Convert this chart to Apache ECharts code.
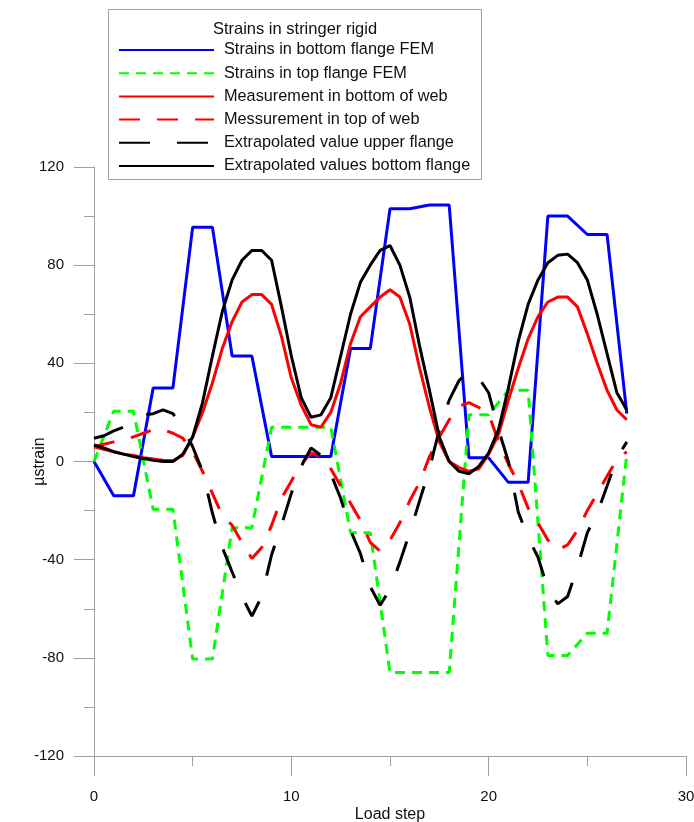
<!DOCTYPE html>
<html>
<head>
    <meta charset="utf-8">
    <script src="https://cdn.jsdelivr.net/npm/echarts@6/dist/echarts.min.js"></script>
    <style>
        html, body { margin: 0; padding: 0; background: #fff; }
    </style>
</head>
<body>
    <div id="main" style="width: 694px;height:822px;"></div>
    <script type="text/javascript">
        // load steps for the FEM results (one value per step)
        var feSteps = [0, 1, 2, 3, 4, 5, 6, 7, 8, 9, 10, 11, 12, 13, 14, 15, 16, 17, 18, 19, 20, 21, 22, 23, 24, 25, 26, 27];
        // load steps for measured / extrapolated curves (half steps)
        var halfSteps = [0, 0.5, 1, 1.5, 2, 2.5, 3, 3.5, 4, 4.5, 5, 5.5, 6, 6.5, 7, 7.5, 8, 8.5, 9, 9.5,
            10, 10.5, 11, 11.5, 12, 12.5, 13, 13.5, 14, 14.5, 15, 15.5, 16, 16.5, 17, 17.5, 18, 18.5, 19, 19.5,
            20, 20.5, 21, 21.5, 22, 22.5, 23, 23.5, 24, 24.5, 25, 25.5, 26, 26.5, 27];

        var bottomFlangeFEM = [0, -14, -14, 30, 30, 95.5, 95.5, 43, 43, 2, 2, 2, 2, 46, 46, 103, 103, 104.5, 104.5, 1.5, 1.5, -8.5, -8.5, 100, 100, 92.5, 92.5, 19.5];
        var topFlangeFEM = [0, 20.5, 20.5, -19.5, -19.5, -80.5, -80.5, -27, -27, 14, 14, 14, 14, -29, -29, -86, -86, -86, -86, 19, 19, 29, 29, -79, -79, -70, -70, 3];

        var webBottom = [6, 5, 4, 3, 2.5, 1.5, 1, 0.5, 0.3, 2.5, 10, 20, 32, 46, 57, 65, 68, 68, 64, 51,
            34, 23, 15, 14, 20, 32, 48, 59, 63, 67, 70, 67, 56, 38, 22, 8, 0, -2.5, -4, -3,
            3, 11, 25, 38, 50, 59, 65, 67, 67, 63, 52, 40, 29, 21, 17];
        var webTop = [6, 7, 8, 9, 10, 11.5, 13, 13, 11.5, 9.5, 4, -4, -13, -22, -26, -33, -39.5, -35, -26, -15,
            -8, -1, 3.5, 2, -3, -10, -17, -24, -33, -36.5, -32, -25, -16, -8.5, 2, 10, 17, 22.5, 24, 22,
            19.5, 8, -1, -9, -19, -25, -32, -36, -34, -28, -20, -13, -6, 1, 4];
        var extrapUpper = [9.5, 10.5, 12.5, 14, 16, 19, 19.5, 21, 19.5, 14, 6, -4, -21, -35, -45, -55, -63, -55, -38, -26,
            -13, -2, 5.5, 2.5, -5, -15, -28, -37.5, -51, -58.6, -52, -41, -29, -16, -3, 13, 25, 33, 37, 34,
            28, 13, 0, -20.6, -31, -39, -52, -58, -55, -43, -29, -21, -10, 1.4, 8];
        var extrapBottom = [6.7, 5.5, 4, 3, 2, 1.2, 0.5, 0, 0, 3, 10, 24, 43, 61, 74, 82, 86, 86, 82, 63,
            43, 26, 18, 19, 26, 43, 60, 73, 80, 86, 88, 80, 67, 47, 29, 10, 0, -4, -5, -2,
            3.5, 13, 30, 49, 64, 74, 81, 84, 84.5, 81, 74, 60, 44, 28, 21];

        var yTicks = [-120, -80, -40, 0, 40, 80, 120];
        var xTicks = [0, 10, 20, 30];

        function pairs(xs, ys) {
            return xs.map(function (x, i) { return [x, ys[i]]; });
        }

        var axisGray = '#a0a0a0';
        var font = 'Liberation Sans, Arial, sans-serif';

        function lineSeries(name, xs, ys, color, type) {
            return {
                name: name,
                type: 'line',
                symbol: 'none',
                animation: false,
                lineStyle: { color: color, width: 3, type: type },
                itemStyle: { color: color },
                data: pairs(xs, ys)
            };
        }

        var option = {
            backgroundColor: '#fff',
            animation: false,
            grid: { left: 94, right: 8, top: 167, bottom: 66, outerBoundsMode: 'none' },
            graphic: [
                {
                    type: 'rect',
                    shape: { x: 108.5, y: 9.5, width: 373, height: 170 },
                    style: { fill: '#fff', stroke: '#a0a0a0', lineWidth: 1 },
                    z: 50
                },
                {
                    type: 'text',
                    x: 295, y: 29,
                    style: {
                        text: 'Strains in stringer rigid', fontSize: 16.5, fontFamily: font, fill: '#111',
                        align: 'center', verticalAlign: 'middle'
                    },
                    z: 51
                }
            ],
            legend: {
                orient: 'vertical',
                left: 118,
                top: 42,
                padding: 0,
                itemWidth: 95,
                itemHeight: 16,
                itemGap: 7.2,
                z: 52,
                itemStyle: { opacity: 0 },
                textStyle: { fontSize: 16.3, fontFamily: font, color: '#111', lineHeight: 16, padding: [0, 0, 0, 5] },
                data: ['Strains in bottom flange FEM', 'Strains in top flange FEM', 'Measurement in bottom of web',
                    'Messurement in top of web', 'Extrapolated value upper flange', 'Extrapolated values bottom flange']
            },
            xAxis: {
                type: 'value',
                min: 0,
                max: 30,
                interval: 10,
                name: 'Load step',
                nameLocation: 'middle',
                nameGap: 51,
                nameMoveOverlap: false,
                nameTextStyle: { fontSize: 16, fontFamily: font, color: '#111' },
                axisLine: { onZero: false, lineStyle: { color: axisGray, width: 1 } },
                axisTick: { show: true, length: 20, lineStyle: { color: axisGray } },
                minorTick: { show: true, splitNumber: 2, length: 10, lineStyle: { color: axisGray } },
                splitLine: { show: false },
                axisLabel: {
                    margin: 33, fontSize: 15, fontFamily: font, color: '#111',
                    formatter: function (v) { return xTicks.indexOf(v) >= 0 ? String(v) : ''; }
                }
            },
            yAxis: {
                type: 'value',
                min: -120,
                max: 120,
                interval: 40,
                name: 'µstrain',
                nameLocation: 'middle',
                nameGap: 46,
                nameMoveOverlap: false,
                nameTextStyle: { fontSize: 16, fontFamily: font, color: '#111' },
                axisLine: { show: true, lineStyle: { color: axisGray, width: 1 } },
                axisTick: { show: true, length: 20, lineStyle: { color: axisGray } },
                minorTick: { show: true, splitNumber: 2, length: 10, lineStyle: { color: axisGray } },
                splitLine: { show: false },
                axisLabel: {
                    margin: 30, fontSize: 15, fontFamily: font, color: '#111',
                    formatter: function (v) { return yTicks.indexOf(v) >= 0 ? String(v) : ''; }
                }
            },
            series: [
                lineSeries('Strains in bottom flange FEM', feSteps, bottomFlangeFEM, '#0000ff', 'solid'),
                lineSeries('Strains in top flange FEM', feSteps, topFlangeFEM, '#00ff00', [10, 7]),
                lineSeries('Measurement in bottom of web', halfSteps, webBottom, '#ff0000', 'solid'),
                lineSeries('Messurement in top of web', halfSteps, webTop, '#ff0000', [21, 17]),
                lineSeries('Extrapolated value upper flange', halfSteps, extrapUpper, '#000000', [31, 27]),
                lineSeries('Extrapolated values bottom flange', halfSteps, extrapBottom, '#000000', 'solid')
            ]
        };

        var myChart = echarts.init(document.getElementById('main'));
        myChart.setOption(option);
    </script>
</body>
</html>
